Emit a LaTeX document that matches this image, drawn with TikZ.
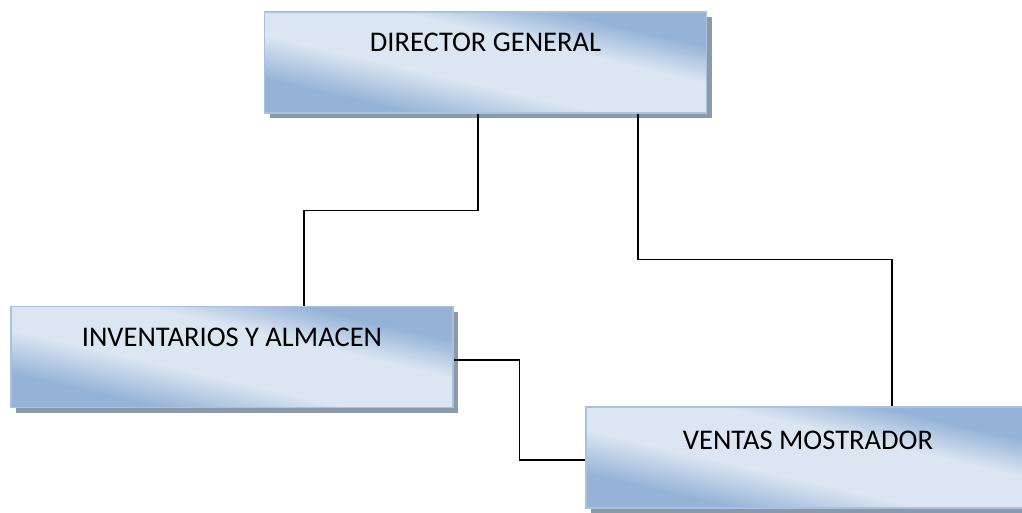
\documentclass[tikz,border=0pt]{standalone}
\usepackage{fontspec}
\setmainfont{Carlito}
\usetikzlibrary{shadows}

\definecolor{boxdark}{HTML}{95B3D7}
\definecolor{boxlight}{HTML}{DCE6F2}
\definecolor{boxedge}{HTML}{A9C1DF}
\definecolor{boxshadow}{HTML}{8C99A8}

\pgfdeclareverticalshading{unitshade}{100bp}{color(0bp)=(boxdark); color(30bp)=(boxdark);
  color(43bp)=(boxlight); color(59bp)=(boxlight); color(70bp)=(boxdark); color(100bp)=(boxdark)}

\tikzset{
  unitbox/.style={draw=boxedge, line width=1.2pt, rectangle,
    minimum width=442pt, minimum height=101pt, inner sep=0pt,
    shading=unitshade, shading angle=-13,
    drop shadow={shadow xshift=5pt, shadow yshift=-5pt, fill=boxshadow, opacity=1}},
  unitlabel/.style={anchor=center, font=\fontsize{28.5}{34}\selectfont},
  conn/.style={line width=1.6pt, black}
}

\begin{document}
\begin{tikzpicture}[x=1pt, y=-1pt]
		\useasboundingbox (0,0) rectangle (1022,512);
		
		% Boxes
		\node[unitbox] (dir) at (485.5,62.5) {};
		\node[unitbox] (inv) at (232,357) {};
		\node[unitbox, minimum width=444pt] (ven) at (808,457.5) {};
		
		% Labels
		\node[unitlabel] (dirtext) at ([yshift=-31pt]dir.north) {DIRECTOR GENERAL};
		\node[unitlabel] (invtext) at ([yshift=-31pt]inv.north) {INVENTARIOS Y ALMACEN};
		\node[unitlabel] (ventext) at ([yshift=-34pt]ven.north) {VENTAS MOSTRADOR};
		
		% Connectors
		\draw[conn] ([xshift=-7.5pt]dir.south) -- ++(0,97) -| ([xshift=72pt]inv.north);
		\draw[conn] ([xshift=152.5pt]dir.south) -- ++(0,146) -| ([xshift=84pt]ven.north);
		\draw[conn] ([yshift=-3pt]inv.east) -- ++(66,0) |- ([yshift=-2.5pt]ven.west);
	\end{tikzpicture}
\end{document}
